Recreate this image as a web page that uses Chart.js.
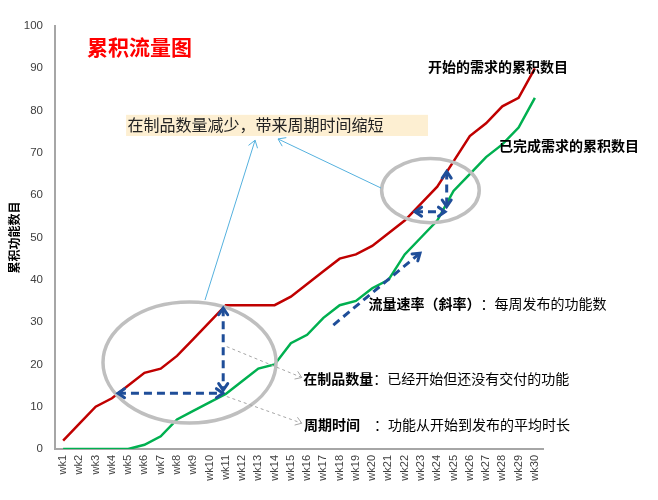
<!DOCTYPE html>
<html>
<head>
<meta charset="utf-8">
<script src="https://cdn.jsdelivr.net/npm/chart.js@4.4.1/dist/chart.umd.min.js"></script>
<style>
  html, body { margin: 0; padding: 0; background: #fff; }
</style>
</head>
<body>
<canvas id="cfd" width="658" height="500"></canvas>
<script>
// week labels on the x axis
const weeks = ['wk1', 'wk2', 'wk3', 'wk4', 'wk5', 'wk6', 'wk7', 'wk8', 'wk9', 'wk10',
    'wk11', 'wk12', 'wk13', 'wk14', 'wk15', 'wk16', 'wk17', 'wk18', 'wk19', 'wk20',
    'wk21', 'wk22', 'wk23', 'wk24', 'wk25', 'wk26', 'wk27', 'wk28', 'wk29', 'wk30'];
// cumulative started requirements (red)
const started = [2, 6, 10, 12, 15, 18, 19, 22, 26, 30,
    34, 34, 34, 34, 36, 39, 42, 45, 46, 48,
    51, 54, 58, 62, 68, 74, 77, 81, 83, 90];
// cumulative finished requirements (green)
const finished = [0, 0, 0, 0, 0, 1, 3, 7, 9, 11,
    13, 16, 19, 20, 25, 27, 31, 34, 35, 38,
    40, 46, 50, 54, 61, 65, 69, 72, 76, 83];
const yTicks = [0, 10, 20, 30, 40, 50, 60, 70, 80, 90, 100];

const CJK = '"Noto Sans CJK SC", "Noto Sans", sans-serif';

function chevron(ctx, x1, y1, x2, y2, size) {
    const a = Math.atan2(y2 - y1, x2 - x1);
    ctx.beginPath();
    ctx.moveTo(x2 - size * Math.cos(a - 0.6), y2 - size * Math.sin(a - 0.6));
    ctx.lineTo(x2, y2);
    ctx.lineTo(x2 - size * Math.cos(a + 0.6), y2 - size * Math.sin(a + 0.6));
    ctx.stroke();
}

function arrow(ctx, a, b, opts) {
    ctx.save();
    ctx.strokeStyle = opts.color;
    ctx.lineWidth = opts.width;
    ctx.setLineDash(opts.dash || []);
    ctx.beginPath();
    ctx.moveTo(a[0], a[1]);
    ctx.lineTo(b[0], b[1]);
    ctx.stroke();
    ctx.setLineDash([]);
    ctx.lineCap = 'round';
    chevron(ctx, a[0], a[1], b[0], b[1], opts.head);
    if (opts.both) chevron(ctx, b[0], b[1], a[0], a[1], opts.head);
    ctx.restore();
}

function label(ctx, p, parts) {
    let px = p[0];
    ctx.textBaseline = 'middle';
    ctx.textAlign = 'left';
    parts.forEach(([txt, font, color]) => {
        ctx.font = font;
        ctx.fillStyle = color || '#000';
        ctx.fillText(txt, px, p[1]);
        px += ctx.measureText(txt).width;
    });
}

// notes, arrows and circles positioned in data units (category index, value)
const notes = {
    id: 'notes',
    afterDraw(chart) {
        const { ctx, scales: { x, y } } = chart;
        const P = (c, v) => [x.getPixelForValue(c), y.getPixelForValue(v)];

        // grey circles
        ctx.save();
        ctx.strokeStyle = '#bfbfbf';
        ctx.lineWidth = 3.5;
        [[7.77, 20.45, 5.32, 14.3], [22.58, 61.1, 3.0, 7.6]].forEach(([c, v, rc, rv]) => {
            const m = P(c, v), e = P(c + rc, v + rv);
            ctx.beginPath();
            ctx.ellipse(m[0], m[1], e[0] - m[0], m[1] - e[1], 0, 0, Math.PI * 2);
            ctx.stroke();
        });
        ctx.restore();

        // shaded note box
        const b1 = P(3.87, 79.0), b2 = P(22.43, 74.0);
        ctx.fillStyle = '#fdefd2';
        ctx.fillRect(b1[0], b1[1], b2[0] - b1[0], b2[1] - b1[1]);
        label(ctx, P(3.95, 76.5), [['在制品数量减少，带来周期时间缩短', '16px ' + CJK, '#222']]);

        // light blue pointers
        const thin = { color: '#55b1de', width: 1, head: 8 };
        arrow(ctx, P(8.72, 35.2), P(11.8, 73.0), thin);
        arrow(ctx, P(19.54, 61.7), P(13.21, 73.3), thin);

        // grey dashed pointers
        const grey = { color: '#a6a6a6', width: 1, head: 7, dash: [3, 3] };
        arrow(ctx, P(10.06, 24.2), P(14.67, 16.9), grey);
        arrow(ctx, P(10.06, 12.4), P(14.67, 6.1), grey);

        // dark blue dashed measures
        const blue = { color: '#1f4e99', width: 3, head: 8, dash: [8, 5], both: true };
        arrow(ctx, P(3.37, 13.2), P(9.83, 13.2), blue);
        arrow(ctx, P(9.84, 33.3), P(9.84, 13.9), blue);
        arrow(ctx, P(21.63, 56.1), P(23.48, 56.1), blue);
        arrow(ctx, P(23.58, 65.6), P(23.58, 57.3), blue);
        arrow(ctx, P(16.61, 29.3), P(21.94, 46.3), Object.assign({}, blue, { both: false }));

        // texts
        label(ctx, P(1.47, 95.0), [['累积流量图', 'bold 21px ' + CJK, '#ff0000']]);
        label(ctx, P(22.43, 90.4), [['开始的需求的累积数目', 'bold 14px ' + CJK]]);
        label(ctx, P(26.8, 71.7), [['已完成需求的累积数目', 'bold 14px ' + CJK]]);
        label(ctx, P(18.78, 34.4), [['流量速率（斜率）', 'bold 14px ' + CJK], ['：每周发布的功能数', '14px ' + CJK]]);
        label(ctx, P(14.76, 16.7), [['在制品数量', 'bold 14px ' + CJK], ['：已经开始但还没有交付的功能', '14px ' + CJK]]);
        label(ctx, P(14.8, 5.7), [['周期时间　', 'bold 14px ' + CJK], ['：功能从开始到发布的平均时长', '14px ' + CJK]]);
    }
};

new Chart(document.getElementById('cfd'), {
    type: 'line',
    data: {
        labels: weeks,
        datasets: [{
            label: '开始的需求的累积数目',
            data: started,
            borderColor: '#c00000',
            borderWidth: 2.5,
            pointRadius: 0,
            tension: 0
        }, {
            label: '已完成需求的累积数目',
            data: finished,
            borderColor: '#00b050',
            borderWidth: 2.5,
            pointRadius: 0,
            tension: 0
        }]
    },
    options: {
        responsive: false,
        animation: false,
        layout: { padding: { left: 0, right: 115, top: 26, bottom: 0 } },
        plugins: {
            legend: { display: false },
            tooltip: { enabled: false }
        },
        scales: {
            x: {
                offset: true,
                grid: { display: false, drawTicks: false },
                border: { color: '#a6a6a6', width: 2 },
                ticks: {
                    autoSkip: false,
                    minRotation: 90,
                    maxRotation: 90,
                    padding: 6,
                    color: '#404040',
                    font: { family: '"Liberation Sans", Arial, sans-serif', size: 11 }
                },
                afterFit(s) { s.height = 51; }
            },
            y: {
                min: 0,
                max: 100,
                grid: { display: false, drawTicks: false },
                border: { color: '#a6a6a6', width: 2 },
                afterBuildTicks(s) { s.ticks = yTicks.map(v => ({ value: v })); },
                ticks: {
                    padding: 12,
                    color: '#404040',
                    font: { family: '"Liberation Sans", Arial, sans-serif', size: 11.5 }
                },
                title: {
                    display: true,
                    text: '累积功能数目',
                    color: '#000',
                    padding: { top: 7, bottom: 0 },
                    font: { family: CJK, size: 12, weight: 'bold' }
                },
                afterFit(s) { s.width = 55; }
            }
        }
    },
    plugins: [notes]
});
</script>
</body>
</html>
